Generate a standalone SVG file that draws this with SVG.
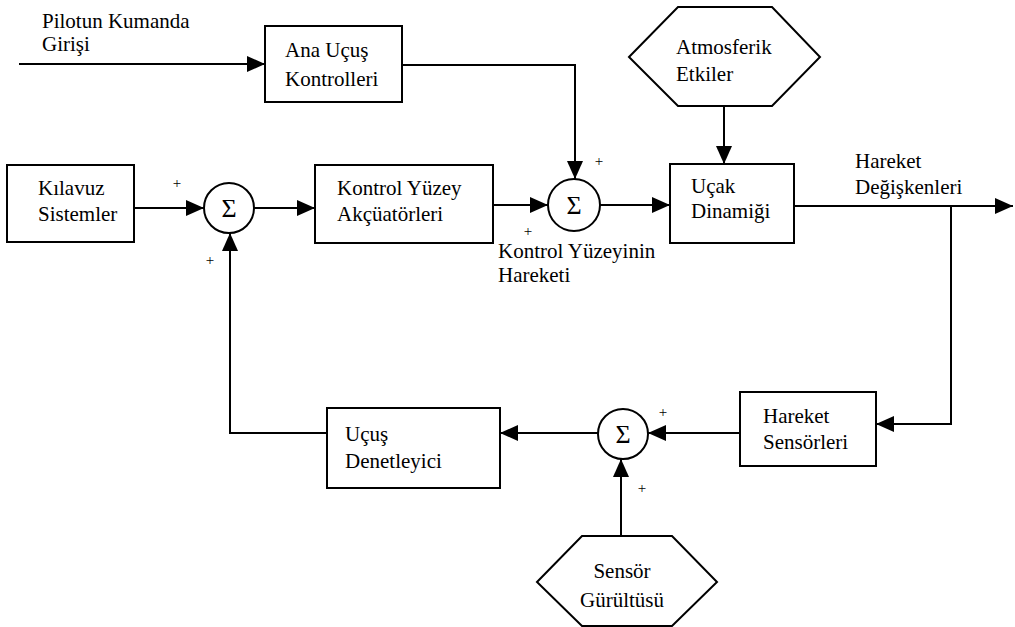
<svg xmlns="http://www.w3.org/2000/svg" width="1015" height="627" viewBox="0 0 1015 627" font-family="'Liberation Serif', 'Times New Roman', 'DejaVu Serif', serif">
<style>
.box{fill:#fff;stroke:#000;stroke-width:2}
.sum{fill:#fff;stroke:#000;stroke-width:2}
.ln{fill:none;stroke:#000;stroke-width:2}
.t{font-family:'Liberation Serif','Times New Roman','DejaVu Serif',serif;font-size:21px;fill:#000}
.sig{font-size:26px;text-anchor:middle}
.pl{font-size:15px;text-anchor:middle}
</style>
<defs>
<marker id="arr" viewBox="0 0 18 16" refX="18" refY="8" markerWidth="18" markerHeight="16" markerUnits="userSpaceOnUse" orient="auto">
<path d="M0,0 L18,8 L0,16 Z" fill="#000"/>
</marker>
</defs>
<rect width="1015" height="627" fill="#fff"/>
<g id="connectors">
<path class="ln" d="M19,64 H265" marker-end="url(#arr)"/>
<path class="ln" d="M402,65 H575 V179" marker-end="url(#arr)"/>
<path class="ln" d="M724,106 V164" marker-end="url(#arr)"/>
<path class="ln" d="M134,208 H204" marker-end="url(#arr)"/>
<path class="ln" d="M254,208 H315" marker-end="url(#arr)"/>
<path class="ln" d="M493,205 H548" marker-end="url(#arr)"/>
<path class="ln" d="M600,205 H670" marker-end="url(#arr)"/>
<path class="ln" d="M794,206 H1013" marker-end="url(#arr)"/>
<path class="ln" d="M951,206 V424 H876" marker-end="url(#arr)"/>
<path class="ln" d="M740,433 H648" marker-end="url(#arr)"/>
<path class="ln" d="M598,433 H500" marker-end="url(#arr)"/>
<path class="ln" d="M621,536 V459" marker-end="url(#arr)"/>
<path class="ln" d="M327,433 H230 V233" marker-end="url(#arr)"/>
</g>
<g id="pilot-input">
<text class="t" x="42" y="28">Pilotun Kumanda</text>
<text class="t" x="42" y="51">Girişi</text>
</g>
<g id="ana-ucus">
<rect class="box" x="265" y="26" width="137" height="76"/>
<text class="t" x="285" y="57">Ana Uçuş</text>
<text class="t" x="285" y="86">Kontrolleri</text>
</g>
<g id="atmosferik">
<polygon class="box" points="629,57 678,7 772,7 820,57 772,106 678,106"/>
<text class="t" x="676" y="54">Atmosferik</text>
<text class="t" x="676" y="81">Etkiler</text>
</g>
<g id="kilavuz">
<rect class="box" x="7" y="165" width="127" height="77"/>
<text class="t" x="38" y="195">Kılavuz</text>
<text class="t" x="38" y="221">Sistemler</text>
</g>
<g id="sum1">
<circle class="sum" cx="229" cy="208" r="25"/>
<text class="t sig" x="229" y="217">Σ</text>
<text class="t pl" x="177" y="188">+</text>
<text class="t pl" x="210" y="265">+</text>
</g>
<g id="kontrol-yuzey">
<rect class="box" x="315" y="165" width="178" height="78"/>
<text class="t" x="337" y="195">Kontrol Yüzey</text>
<text class="t" x="337" y="221">Akçüatörleri</text>
</g>
<g id="sum2">
<circle class="sum" cx="574" cy="205" r="26"/>
<text class="t sig" x="574" y="214">Σ</text>
<text class="t pl" x="599" y="166">+</text>
<text class="t pl" x="528" y="236">+</text>
<text class="t" x="498" y="258">Kontrol Yüzeyinin</text>
<text class="t" x="498" y="282">Hareketi</text>
</g>
<g id="ucak">
<rect class="box" x="670" y="164" width="124" height="79"/>
<text class="t" x="691" y="193">Uçak</text>
<text class="t" x="691" y="218">Dinamiği</text>
</g>
<g id="hareket-degiskenleri">
<text class="t" x="855" y="168">Hareket</text>
<text class="t" x="855" y="194">Değişkenleri</text>
</g>
<g id="hareket-sensorleri">
<rect class="box" x="740" y="392" width="136" height="74"/>
<text class="t" x="763" y="423">Hareket</text>
<text class="t" x="763" y="449">Sensörleri</text>
</g>
<g id="sum3">
<circle class="sum" cx="623" cy="434" r="25"/>
<text class="t sig" x="623" y="443">Σ</text>
<text class="t pl" x="663" y="417">+</text>
<text class="t pl" x="642" y="493">+</text>
</g>
<g id="ucus-denetleyici">
<rect class="box" x="327" y="408" width="173" height="80"/>
<text class="t" x="345" y="441">Uçuş</text>
<text class="t" x="345" y="468">Denetleyici</text>
</g>
<g id="sensor-gurultusu">
<polygon class="box" points="537,582 582,536 672,536 717,582 672,626 582,626"/>
<text class="t" x="622" y="578" text-anchor="middle">Sensör</text>
<text class="t" x="622" y="607" text-anchor="middle">Gürültüsü</text>
</g>
</svg>
